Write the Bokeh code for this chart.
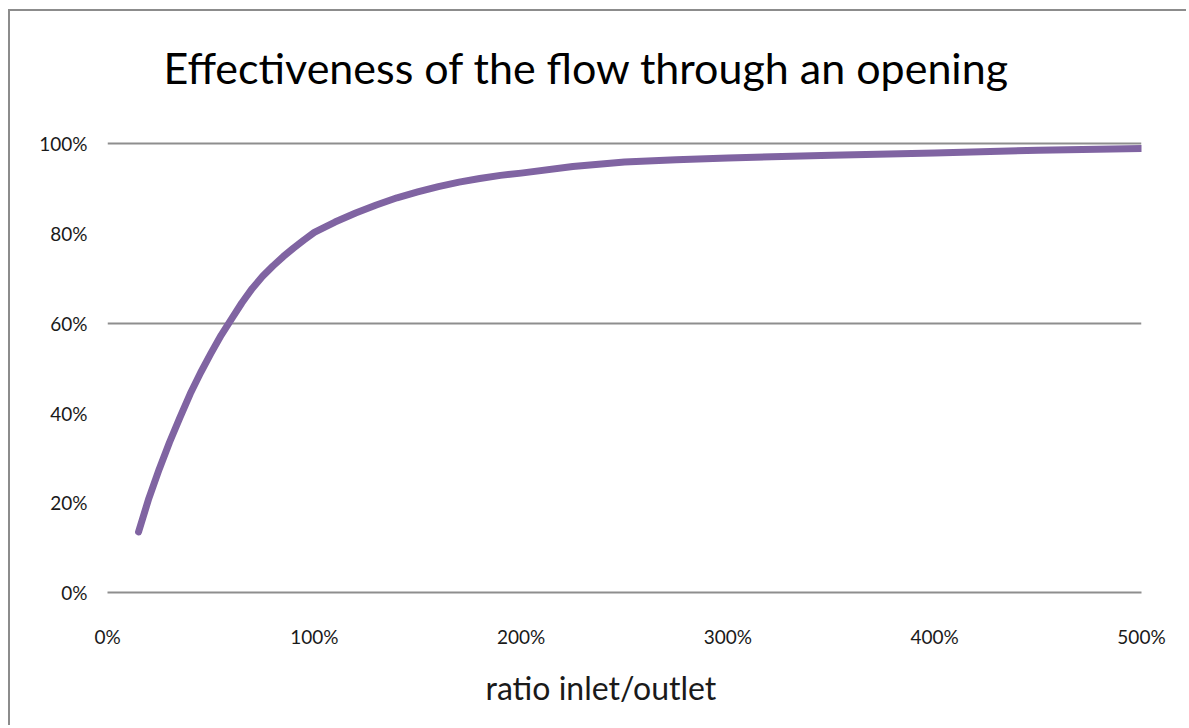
from bokeh.plotting import figure
from bokeh.layouts import column
from bokeh.models import FixedTicker, PrintfTickFormatter, Range1d, Title
from bokeh.embed import file_html
from bokeh.resources import INLINE

title_text = "Effectiveness of the flow through an opening"
x_label = "ratio inlet/outlet"

ratio = [15, 20, 25, 30, 35, 40, 45, 50, 55, 60, 65, 70, 75, 80, 85, 90, 95,
         100, 110, 120, 130, 140, 150, 160, 170, 180, 190, 200,
         225, 250, 275, 300, 350, 400, 450, 500]
effectiveness = [13.5, 21.0, 27.5, 33.5, 39.0, 44.3, 49.0, 53.3, 57.4, 61.0,
                 64.6, 67.8, 70.5, 72.8, 74.9, 76.8, 78.6,
                 80.3, 82.6, 84.6, 86.4, 88.0, 89.3, 90.5, 91.5, 92.3, 93.0, 93.5,
                 95.0, 96.0, 96.5, 96.9, 97.5, 98.0, 98.6, 99.0]

x_ticks = [0, 100, 200, 300, 400, 500]
y_ticks = [0, 20, 40, 60, 80, 100]
grid_ticks = [60, 100]

FONT = "Lato"

p = figure(width=1178, height=716, output_backend="svg", toolbar_location=None,
           x_range=Range1d(0, 500), y_range=Range1d(0, 101),
           min_border_left=97, min_border_right=47,
           min_border_top=128, min_border_bottom=135)
p.styles = {"border-left": "2px solid #8c8c8c", "border-top": "2px solid #8c8c8c"}
p.margin = (9, 0, 0, 8)

# the chart title, with an empty spacer between it and the plot area
p.title = Title(text=title_text, align="left", text_font=FONT,
                text_font_size="43px", text_font_style="normal",
                text_color="#000000", standoff=0, offset=56)
p.add_layout(Title(text=" ", text_font_size="1px", standoff=44), "above")

p.outline_line_color = None
p.background_fill_color = "white"
p.border_fill_color = "white"

p.xgrid.grid_line_color = None
p.ygrid.ticker = FixedTicker(ticks=grid_ticks)
p.ygrid.grid_line_color = "#8e8e8e"
p.ygrid.grid_line_width = 2

p.xaxis.ticker = FixedTicker(ticks=x_ticks)
p.yaxis.ticker = FixedTicker(ticks=y_ticks)
p.xaxis.formatter = PrintfTickFormatter(format="%d%%")
p.yaxis.formatter = PrintfTickFormatter(format="%d%%")

for ax in (p.xaxis, p.yaxis):
    ax.major_tick_line_color = None
    ax.minor_tick_line_color = None
    ax.major_label_text_font = FONT
    ax.major_label_text_font_size = "19px"
    ax.major_label_text_color = "#1a1a1a"

p.yaxis.axis_line_color = None
p.yaxis.major_label_standoff = 14
p.xaxis.axis_line_color = "#8e8e8e"
p.xaxis.axis_line_width = 2
p.xaxis.major_label_standoff = 26

x_title = Title(text=x_label, align="left", text_font=FONT,
                text_font_size="32px", text_font_style="normal",
                text_color="#1a1a1a", standoff=30, offset=378)
p.add_layout(x_title, "below")

p.line(ratio, effectiveness, line_color="#8064A2", line_width=7,
       line_cap="round", line_join="round")

layout = column(p)
open("out.html", "w").write(file_html(layout, INLINE))
